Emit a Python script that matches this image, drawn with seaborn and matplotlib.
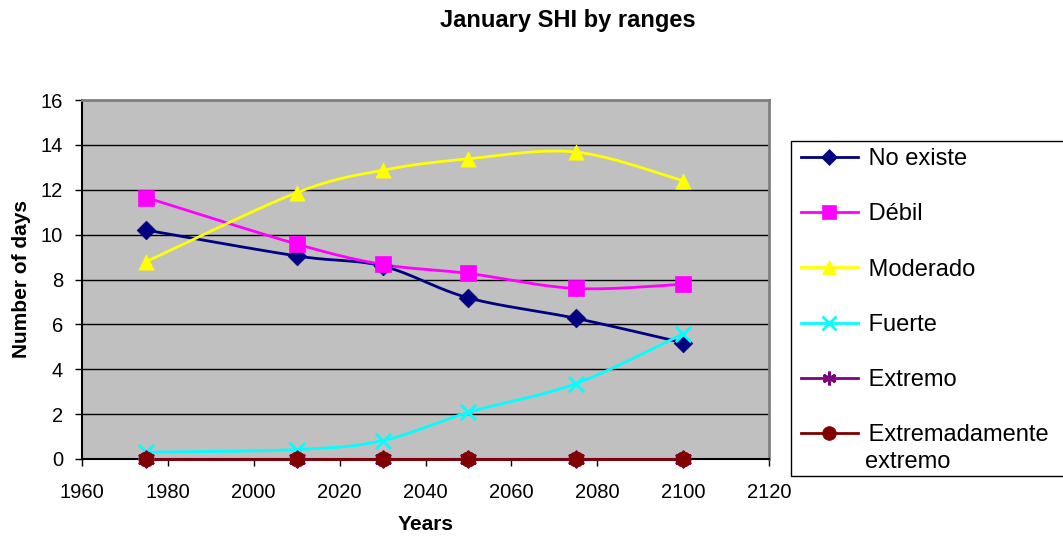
import numpy as np
import pandas as pd
import matplotlib
matplotlib.use("Agg")
import matplotlib.pyplot as plt
from matplotlib.lines import Line2D
from matplotlib.patches import Rectangle
import seaborn as sns

# Data
years = [1975, 2010, 2030, 2050, 2075, 2100]
no_existe = [10.2, 9.05, 8.6, 7.18, 6.27, 5.18]
debil = [11.65, 9.58, 8.67, 8.27, 7.6, 7.79]
moderado = [8.8, 11.87, 12.87, 13.38, 13.68, 12.4]
fuerte = [0.3, 0.42, 0.82, 2.08, 3.36, 5.58]
extremo = [0, 0, 0, 0, 0, 0]
extremadamente = [0, 0, 0, 0, 0, 0]

series_names = ["No existe", "Débil", "Moderado", "Fuerte", "Extremo",
                "Extremadamente extremo"]
series_values = [no_existe, debil, moderado, fuerte, extremo, extremadamente]

colors = ["#000080", "#FF00FF", "#FFFF00", "#00FFFF", "#800080", "#800000"]
markers = ["D", "s", "^", "x", (6, 2, 0), "o"]
msizes = [9.5, 11, 11, 11, 11, 11]

df = pd.DataFrame({
    "year": np.tile(years, len(series_names)),
    "days": np.concatenate(series_values),
    "series": np.repeat(series_names, len(years)),
})

plt.rcParams["font.family"] = ["Liberation Sans", "DejaVu Sans"]


def smooth_curve(x, y, n=40):
    """Catmull-Rom style Bezier smoothing through the points."""
    p = np.column_stack([x, y]).astype(float)
    pts = np.vstack([p[0], p, p[-1]])
    out = []
    t = np.linspace(0, 1, n)[:, None]
    for i in range(1, len(pts) - 2):
        p0, p1, p2, p3 = pts[i - 1], pts[i], pts[i + 1], pts[i + 2]
        c1 = p1 + (p2 - p0) / 6.0
        c2 = p2 - (p3 - p1) / 6.0
        seg = ((1 - t) ** 3) * p1 + 3 * ((1 - t) ** 2) * t * c1 \
            + 3 * (1 - t) * t ** 2 * c2 + t ** 3 * p2
        out.append(seg if i == 1 else seg[1:])
    c = np.vstack(out)
    return c[:, 0], c[:, 1]


W, H = 1063, 539
fig = plt.figure(figsize=(W / 100, H / 100), dpi=100)
ax = fig.add_axes([82 / W, 1 - 459 / H, 687 / W, 359 / H])
ax.set_facecolor("#C0C0C0")

for name, col, mk, ms in zip(series_names, colors, markers, msizes):
    sub = df[df["series"] == name]
    sx, sy = smooth_curve(sub["year"].values, sub["days"].values)
    ax.plot(sx, sy, color=col, lw=2.0, zorder=3, clip_on=False)
    sns.scatterplot(x=sub["year"], y=sub["days"], ax=ax, marker=mk,
                    s=ms ** 2, color=col, edgecolor=col,
                    linewidth=2 if mk in ("x", (6, 2, 0)) else 0.5,
                    zorder=4, clip_on=False, legend=False)

ax.set_xlim(1960, 2120)
ax.set_ylim(0, 16)
ax.set_xticks(np.arange(1960, 2121, 20))
ax.set_yticks(np.arange(0, 17, 2))
ax.yaxis.grid(True, color="black", lw=1.0)
ax.set_axisbelow(True)
ax.tick_params(axis="both", labelsize=14.5, length=5, width=1, colors="black",
               direction="out")
ax.tick_params(axis="x", pad=12)
ax.tick_params(axis="y", pad=8.5)
for side in ("left", "bottom"):
    ax.spines[side].set_color("black")
    ax.spines[side].set_linewidth(1.5)
for side in ("right", "top"):
    ax.spines[side].set_color("#808080")
    ax.spines[side].set_linewidth(2)
ax.set_xlabel("Years", fontsize=15, fontweight="bold", labelpad=10)
ax.set_ylabel("Number of days", fontsize=15, fontweight="bold", labelpad=7)
fig.text(568 / W, 1 - 20 / H, "January SHI by ranges", ha="center",
         va="center", fontsize=17, fontweight="bold")

# Legend box, running off the right edge of the figure
fig.patches.append(Rectangle((791 / W, 1 - 476 / H), 300 / W, 335 / H,
                             transform=fig.transFigure, facecolor="white",
                             edgecolor="black", lw=1.0, zorder=0))
handles = [Line2D([0], [0], color=c, lw=2, marker=m, markersize=s * 0.9,
                  markerfacecolor=c, markeredgecolor=c,
                  markeredgewidth=2 if m in ("x", (6, 2, 0)) else 0.5)
           for c, m, s in zip(colors, markers, msizes)]
# the last label wraps onto a second line below its handle
first_lines = [" " + n for n in series_names[:-1]] + [" Extremadamente"]
leg = fig.legend(handles, first_lines, loc="upper left",
                 bbox_to_anchor=(801 / W, 1 - 148 / H),
                 frameon=False, fontsize=17, handlelength=2.4,
                 handletextpad=0.2, labelspacing=1.41, borderpad=0,
                 borderaxespad=0)
fig.text(865 / W, 1 - 462 / H, "extremo", ha="left", va="center",
         fontsize=17)

fig.savefig("out.png", dpi=100, facecolor="white")
